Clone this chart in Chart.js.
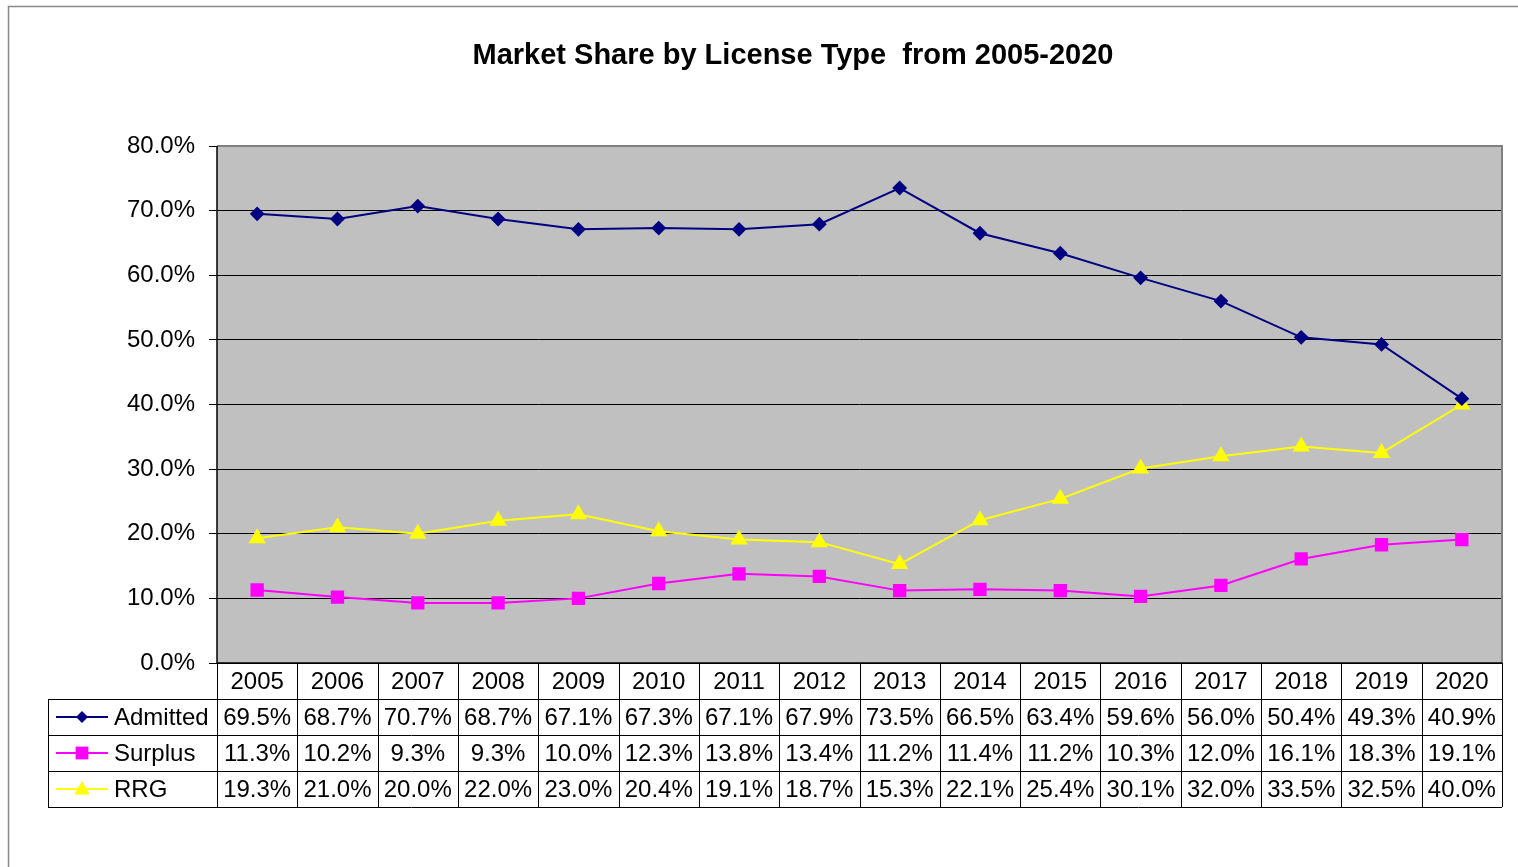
<!DOCTYPE html>
<html><head><meta charset="utf-8">
<style>html,body{margin:0;padding:0;background:#fff;overflow:hidden}#wrap{width:1518px;height:867px;position:relative}</style>
<script src="https://cdn.jsdelivr.net/npm/chart.js@4/dist/chart.umd.min.js"></script>
</head><body><div id="wrap"><canvas id="c" width="1518" height="867"></canvas></div>
<script>
const years = ['2005','2006','2007','2008','2009','2010','2011','2012','2013','2014','2015','2016','2017','2018','2019','2020'];
const admitted = [69.5,68.7,70.7,68.7,67.1,67.3,67.1,67.9,73.5,66.5,63.4,59.6,56.0,50.4,49.3,40.9];
const surplus = [11.3,10.2,9.3,9.3,10.0,12.3,13.8,13.4,11.2,11.4,11.2,10.3,12.0,16.1,18.3,19.1];
const rrg = [19.3,21.0,20.0,22.0,23.0,20.4,19.1,18.7,15.3,22.1,25.4,30.1,32.0,33.5,32.5,40.0];
const yTicks = [0,10,20,30,40,50,60,70,80];
const titleText = 'Market Share by License Type  from 2005-2020';
const FONT = '"Liberation Sans", Arial, sans-serif';

const decor = {
  id:'decor',
  beforeDraw(chart){
    const {ctx, chartArea:a} = chart;
    ctx.save();
    ctx.fillStyle='#fff'; ctx.fillRect(0,0,chart.width,chart.height);
    ctx.strokeStyle='#888'; ctx.lineWidth=1.5;
    ctx.beginPath(); ctx.moveTo(8.5,867); ctx.lineTo(8.5,6.5); ctx.lineTo(1518,6.5); ctx.stroke();
    ctx.fillStyle='#C0C0C0'; ctx.fillRect(a.left,a.top,a.right-a.left,a.bottom-a.top);
    ctx.fillStyle='#000'; ctx.font='bold 29px '+FONT; ctx.textAlign='center'; ctx.textBaseline='middle';
    ctx.fillText(titleText, 793, 56);
    ctx.restore();
  },
  afterDraw(chart){
    const {ctx, chartArea:a} = chart;
    const xs = chart.scales.x;
    ctx.save();
    ctx.strokeStyle='#808080'; ctx.lineWidth=2;
    ctx.beginPath(); ctx.moveTo(a.left,a.top); ctx.lineTo(a.right,a.top); ctx.lineTo(a.right,a.bottom); ctx.stroke();
    ctx.strokeStyle='#000'; ctx.lineWidth=1.5;
    ctx.beginPath(); ctx.moveTo(a.left,a.top); ctx.lineTo(a.left,a.bottom); ctx.lineTo(a.right,a.bottom); ctx.stroke();
    const rowH = 36;
    const top = a.bottom;
    const n = years.length;
    const colW = (a.right-a.left)/n;
    const bounds = [];
    for(let i=0;i<=n;i++) bounds.push(a.left + i*colW);
    const legL = 48;
    ctx.lineWidth=1; ctx.strokeStyle='#000';
    ctx.beginPath();
    for(let r=1;r<=4;r++){
      const y = Math.round(top + r*rowH)+0.5;
      ctx.moveTo(legL,y); ctx.lineTo(a.right,y);
    }
    for(let i=0;i<=n;i++){
      const x = Math.round(bounds[i])+0.5;
      ctx.moveTo(x,top); ctx.lineTo(x,top+4*rowH);
    }
    ctx.moveTo(legL+0.5, top+rowH); ctx.lineTo(legL+0.5, top+4*rowH);
    ctx.stroke();
    ctx.font='24px '+FONT; ctx.fillStyle='#000'; ctx.textBaseline='middle'; ctx.textAlign='center';
    years.forEach((yv,i)=>{ ctx.fillText(yv, xs.getPixelForValue(i), top+rowH/2+1); });
    const rows = [admitted,surplus,rrg];
    rows.forEach((arr,r)=>{
      arr.forEach((v,i)=>{ ctx.fillText(v.toFixed(1)+'%', xs.getPixelForValue(i), top+rowH*(r+1)+rowH/2+1); });
    });
    chart.data.datasets.forEach((ds,r)=>{
      const cy = top+rowH*(r+1)+rowH/2;
      ctx.strokeStyle=ds.borderColor; ctx.lineWidth=2;
      ctx.beginPath(); ctx.moveTo(56,cy); ctx.lineTo(108,cy); ctx.stroke();
      ctx.fillStyle=ds.pointBackgroundColor;
      ctx.beginPath();
      const rr = ds.pointRadius;
      if(ds.pointStyle==='rectRot'){ ctx.moveTo(82,cy-rr);ctx.lineTo(82+rr,cy);ctx.lineTo(82,cy+rr);ctx.lineTo(82-rr,cy);ctx.closePath(); }
      else if(ds.pointStyle==='rect'){ ctx.rect(82-rr*0.8,cy-rr*0.8,rr*1.6,rr*1.6); }
      else { ctx.moveTo(82,cy-rr);ctx.lineTo(82+rr*0.95,cy+rr*0.7);ctx.lineTo(82-rr*0.95,cy+rr*0.7);ctx.closePath(); }
      ctx.fill();
      ctx.fillStyle='#000'; ctx.textAlign='left';
      ctx.fillText(ds.label, 114, cy+1);
    });
    ctx.restore();
  }
};

new Chart(document.getElementById('c'), {
  type:'line',
  data:{ labels: years, datasets:[
    {label:'Admitted', data:admitted, borderColor:'#000080', backgroundColor:'#000080', pointBackgroundColor:'#000080', pointBorderColor:'#000080', pointStyle:'rectRot', pointRadius:6, borderWidth:2, tension:0},
    {label:'Surplus', data:surplus, borderColor:'#FF00FF', backgroundColor:'#FF00FF', pointBackgroundColor:'#FF00FF', pointBorderColor:'#FF00FF', pointStyle:'rect', pointRadius:8, borderWidth:2, tension:0},
    {label:'RRG', data:rrg, borderColor:'#FFFF00', backgroundColor:'#FFFF00', pointBackgroundColor:'#FFFF00', pointBorderColor:'#FFFF00', pointStyle:'triangle', pointRadius:8, borderWidth:2, tension:0}
  ]},
  options:{
    responsive:false, animation:false, devicePixelRatio:1,
    layout:{padding:{top:146,right:16,bottom:204,left:0}},
    plugins:{legend:{display:false}, title:{display:false}, tooltip:{enabled:false}},
    scales:{
      x:{display:false, offset:true},
      y:{min:0,max:80, afterFit(s){s.width=217;},
        afterBuildTicks(s){ s.ticks = yTicks.map(v=>({value:v})); },
        ticks:{stepSize:10, padding:14, color:'#000', font:{family:FONT,size:24}, callback:v=>v.toFixed(1)+'%'},
        grid:{color:'#000', lineWidth:1, tickLength:8, drawOnChartArea:true},
        border:{display:false}
      }
    }
  },
  plugins:[decor]
});
</script></body></html>
